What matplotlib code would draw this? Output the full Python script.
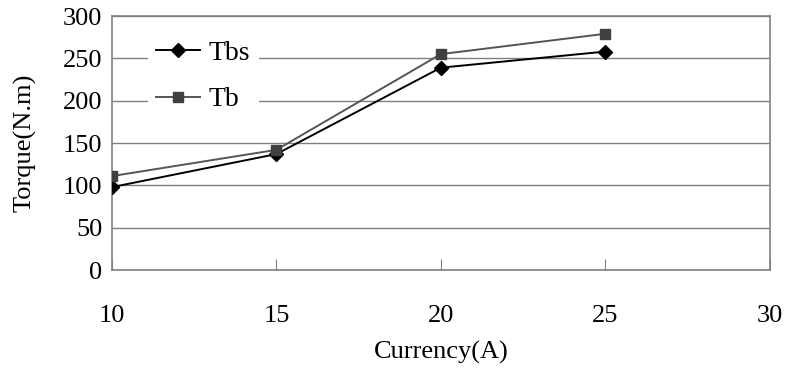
import numpy as np
from matplotlib import pyplot as plt

plt.rcParams['font.family'] = ['Liberation Serif', 'DejaVu Serif']

# data
current = [10, 15, 20, 25]
tbs = [98, 137, 239, 258]
tb = [111, 142, 255, 279]

fig = plt.figure(figsize=(7.87, 3.69), dpi=100)
ax = fig.add_axes([0.1423, 0.268, 0.8357, 0.6886])

ax.plot(current, tbs, color='black', lw=1.4, marker='D', ms=7, label='Tbs', zorder=3)
ax.plot(current, tb, color='#555555', lw=1.4, marker='s', ms=7.5,
        mfc='#404040', mec='#404040', label='Tb', zorder=3)

ax.set_xlim(10, 30)
ax.set_ylim(0, 300)
ax.set_xticks(np.arange(10, 31, 5))
ax.set_yticks(np.arange(0, 301, 50))
ax.yaxis.grid(True, color='#808080', lw=1)
ax.set_axisbelow(True)
for s in ax.spines.values():
    s.set_color('#808080')
    s.set_linewidth(1.2)

ax.tick_params(axis='x', direction='in', length=8, color='#808080', labelsize=19, pad=25)
ax.tick_params(axis='y', length=0, labelsize=19, pad=7)

ax.set_xlabel('Currency(A)', fontsize=19, labelpad=10)
ax.set_ylabel('Torque(N.m)', fontsize=19, labelpad=19)

leg = ax.legend(loc='upper left', bbox_to_anchor=(0.033, 0.99), fontsize=20, frameon=True,
                facecolor='white', edgecolor='none', framealpha=1, handlelength=1.6,
                handletextpad=0.3, labelspacing=0.75, borderpad=0.3, fancybox=False)

plt.savefig('out.png', dpi=100)
